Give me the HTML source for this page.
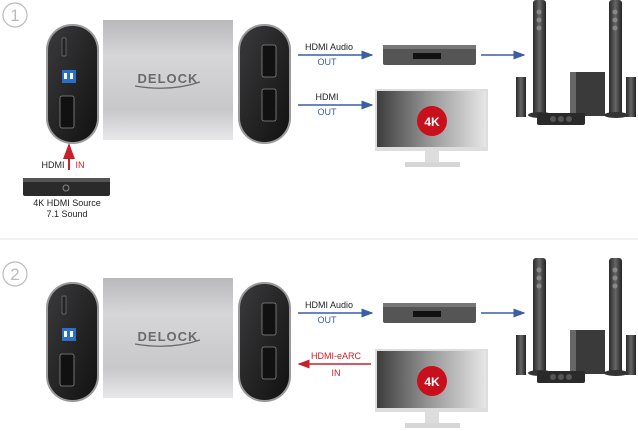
<!DOCTYPE html>
<html><head><meta charset="utf-8"><style>
html,body{margin:0;padding:0;background:#fff;width:638px;height:431px;overflow:hidden}
text{font-family:"Liberation Sans",sans-serif}
</style></head><body>
<svg width="638" height="431" viewBox="0 0 638 431" xmlns="http://www.w3.org/2000/svg">
<defs>
<linearGradient id="silver" x1="0" y1="0" x2="0" y2="1">
<stop offset="0" stop-color="#b9b9bb"/><stop offset="0.3" stop-color="#d6d6d8"/><stop offset="0.75" stop-color="#c8c8ca"/><stop offset="1" stop-color="#e8e8ea"/></linearGradient>
<linearGradient id="oval" x1="0" y1="0" x2="1" y2="1">
<stop offset="0" stop-color="#3a3a3c"/><stop offset="1" stop-color="#111"/></linearGradient>
<linearGradient id="screen" x1="0" y1="0" x2="1" y2="0">
<stop offset="0" stop-color="#3d3d3d"/><stop offset="0.5" stop-color="#9a9a9a"/><stop offset="1" stop-color="#e6e6e6"/></linearGradient>
<linearGradient id="spk" x1="0" y1="0" x2="1" y2="0">
<stop offset="0" stop-color="#2a2a2a"/><stop offset="0.5" stop-color="#666"/><stop offset="1" stop-color="#222"/></linearGradient>
<marker id="ab" markerWidth="8" markerHeight="6" refX="7" refY="3" orient="auto"><path d="M0,0 L8,3 L0,6 z" fill="#3a5ea8"/></marker>
<marker id="ar" markerWidth="8" markerHeight="6" refX="7" refY="3" orient="auto"><path d="M0,0 L8,3 L0,6 z" fill="#c8202a"/></marker>
<g id="devices">
<rect x="46" y="24" width="53" height="120" rx="26" fill="#9a9a9c"/>
<rect x="48" y="26" width="49" height="116" rx="24" fill="url(#oval)"/>
<rect x="62" y="38" width="4" height="18" rx="1" fill="#222" stroke="#777" stroke-width="0.7"/>
<rect x="62" y="70" width="14" height="13" fill="#2a6fc9"/>
<rect x="64" y="73" width="3" height="6" fill="#fff"/><rect x="70" y="73" width="3" height="6" fill="#fff"/>
<rect x="60" y="96" width="14" height="32" rx="2" fill="#111" stroke="#888" stroke-width="0.8"/>
<rect x="103" y="20" width="130" height="120" fill="url(#silver)"/>
<text x="168" y="83" font-size="13" font-weight="bold" fill="#6a6a6c" text-anchor="middle" letter-spacing="1">DELOCK</text>
<path d="M135,86 Q170,92 200,82" stroke="#6a6a6c" stroke-width="1.2" fill="none"/>
<rect x="238" y="24" width="53" height="120" rx="26" fill="#9a9a9c"/>
<rect x="240" y="26" width="49" height="116" rx="24" fill="url(#oval)"/>
<rect x="262" y="45" width="14" height="32" rx="2" fill="#111" stroke="#888" stroke-width="0.8"/>
<rect x="262" y="89" width="14" height="32" rx="2" fill="#111" stroke="#888" stroke-width="0.8"/>
<rect x="383" y="45" width="93" height="20" rx="2" fill="#555"/>
<rect x="383" y="45" width="93" height="4" fill="#777"/>
<rect x="413" y="53" width="28" height="6" fill="#111"/>
<path d="M521,0 h0" />
<rect x="533" y="0" width="13" height="116" rx="3" fill="url(#spk)"/>
<rect x="609" y="0" width="13" height="116" rx="3" fill="url(#spk)"/>
<circle cx="539" cy="12" r="2.5" fill="#888"/><circle cx="539" cy="20" r="2.5" fill="#888"/><circle cx="539" cy="28" r="2.5" fill="#888"/>
<circle cx="615" cy="12" r="2.5" fill="#888"/><circle cx="615" cy="20" r="2.5" fill="#888"/><circle cx="615" cy="28" r="2.5" fill="#888"/>
<rect x="516" y="77" width="10" height="40" fill="url(#spk)"/>
<rect x="626" y="77" width="10" height="40" fill="url(#spk)"/>
<rect x="570" y="72" width="35" height="44" fill="#3a3a3a"/>
<rect x="570" y="72" width="6" height="44" fill="#666"/>
<ellipse cx="540" cy="115" rx="12" ry="3" fill="#333"/>
<ellipse cx="616" cy="115" rx="12" ry="3" fill="#333"/>
<rect x="537" y="113" width="48" height="12" rx="2" fill="#2a2a2a"/>
<circle cx="553" cy="119" r="3" fill="#555"/><circle cx="561" cy="119" r="3" fill="#555"/><circle cx="569" cy="119" r="3" fill="#555"/>
<line x1="298" y1="55" x2="372" y2="55" stroke="#3a5ea8" stroke-width="1.5" marker-end="url(#ab)"/>
<text x="329" y="50" font-size="9" fill="#222" text-anchor="middle">HDMI Audio</text>
<text x="327" y="65" font-size="9" fill="#3a5ea8" text-anchor="middle">OUT</text>
<line x1="481" y1="55" x2="524" y2="55" stroke="#3a5ea8" stroke-width="1.5" marker-end="url(#ab)"/>
</g>
</defs>

<circle cx="15" cy="15" r="12" fill="none" stroke="#bbb" stroke-width="1.2"/>
<text x="15" y="21" font-size="17" fill="#bbb" text-anchor="middle">1</text>
<use href="#devices"/>
<line x1="298" y1="105" x2="372" y2="105" stroke="#3a5ea8" stroke-width="1.5" marker-end="url(#ab)"/>
<text x="327" y="100" font-size="9" fill="#222" text-anchor="middle">HDMI</text>
<text x="327" y="115" font-size="9" fill="#3a5ea8" text-anchor="middle">OUT</text>
<rect x="375" y="89" width="113" height="62" fill="#ddd"/>
<rect x="377" y="91" width="109" height="56" fill="url(#screen)"/>
<circle cx="432" cy="121" r="15" fill="#c8101c"/>
<text x="432" y="126" font-size="12" font-weight="bold" fill="#fff" text-anchor="middle">4K</text>
<rect x="425" y="151" width="14" height="12" fill="#ddd"/>
<rect x="405" y="162" width="55" height="5" fill="#d6d6d6"/>
<line x1="69" y1="170" x2="69" y2="145" stroke="#c8202a" stroke-width="2" marker-end="url(#ar)"/>
<text x="53" y="168" font-size="9" fill="#222" text-anchor="middle">HDMI</text>
<text x="80" y="168" font-size="9" fill="#c8202a" text-anchor="middle">IN</text>
<rect x="23" y="178" width="87" height="18" rx="2" fill="#2a2a2a"/>
<rect x="23" y="178" width="87" height="4" fill="#555"/>
<circle cx="66" cy="188" r="3" fill="none" stroke="#888"/>
<text x="67" y="206" font-size="9" fill="#222" text-anchor="middle">4K HDMI Source</text>
<text x="67" y="217" font-size="9" fill="#222" text-anchor="middle">7.1 Sound</text>

<line x1="0" y1="239" x2="638" y2="239" stroke="#e4e4e4"/>

<circle cx="15" cy="274" r="12" fill="none" stroke="#bbb" stroke-width="1.2"/>
<text x="15" y="280" font-size="17" fill="#bbb" text-anchor="middle">2</text>
<use href="#devices" transform="translate(0,258)"/>
<line x1="371" y1="364" x2="299" y2="364" stroke="#c8202a" stroke-width="1.5" marker-end="url(#ar)"/>
<text x="336" y="359" font-size="9" fill="#c8202a" text-anchor="middle">HDMI-eARC</text>
<text x="336" y="376" font-size="9" fill="#c8202a" text-anchor="middle">IN</text>
<rect x="375" y="349" width="113" height="63" fill="#ddd"/>
<rect x="377" y="351" width="109" height="57" fill="url(#screen)"/>
<circle cx="432" cy="381" r="15" fill="#c8101c"/>
<text x="432" y="386" font-size="12" font-weight="bold" fill="#fff" text-anchor="middle">4K</text>
<rect x="425" y="412" width="14" height="12" fill="#ddd"/>
<rect x="405" y="423" width="55" height="5" fill="#d6d6d6"/>
</svg>
</body></html>
